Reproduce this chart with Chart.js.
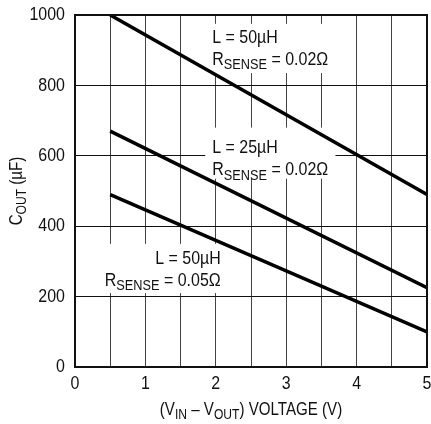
<!DOCTYPE html>
<html>
<head>
<meta charset="utf-8">
<script src="https://cdn.jsdelivr.net/npm/chart.js@4"></script>
<style>
  html, body { margin: 0; padding: 0; background: #fff; }
  #wrap { width: 431px; height: 424px; }
</style>
</head>
<body>
<div id="wrap"><canvas id="chart" width="431" height="424"></canvas></div>
<script>
const xVals = [0.5, 5];
const l50r002 = [1000, 490];
const l25r002 = [670, 225];
const l50r005 = [490, 100];

const xTicks = [0, 1, 2, 3, 4, 5];
const yTicks = [0, 200, 400, 600, 800, 1000];

const FONT = '"Liberation Sans", Arial, sans-serif';
const SQUEEZE = 0.84;

// notes: anchor of first text line in data units, plus white box [x0, x1, yTop, yBottom]
const notes = [
  { x: 1.95, y: 935, align: 'left', lines: ['L = 50µH', 'R|SENSE| = 0.02Ω'], box: [1.85, 3.70, 975, 835] },
  { x: 1.95, y: 622, align: 'left', lines: ['L = 25µH', 'R|SENSE| = 0.02Ω'], box: [1.85, 3.70, 680, 535] },
  { x: 2.07, y: 307, align: 'right', lines: ['L = 50µH', 'R|SENSE| = 0.05Ω'], box: [0.35, 2.15, 350, 210] }
];

function toPts(ys) {
  return ys.map((y, i) => ({ x: xVals[i], y }));
}

// draws condensed text; parts between | | are subscripts
function richText(ctx, str, x, y, size, align) {
  const parts = str.split('|');
  const subSize = size * 0.8;
  let w = 0;
  parts.forEach((p, i) => {
    ctx.font = (i % 2 ? subSize : size) + 'px ' + FONT;
    w += ctx.measureText(p).width;
  });
  w *= SQUEEZE;
  let cx = align === 'right' ? x - w : align === 'center' ? x - w / 2 : x;
  parts.forEach((p, i) => {
    const sub = i % 2 === 1;
    ctx.font = (sub ? subSize : size) + 'px ' + FONT;
    ctx.save();
    ctx.translate(cx, y + (sub ? size * 0.28 : 0));
    ctx.scale(SQUEEZE, 1);
    ctx.fillText(p, 0, 0);
    ctx.restore();
    cx += ctx.measureText(p).width * SQUEEZE;
  });
}

const extras = {
  id: 'extras',
  beforeDatasetsDraw(chart) {
    const { ctx, scales: { x, y } } = chart;
    ctx.save();
    ctx.fillStyle = '#fff';
    notes.forEach(n => {
      const l = x.getPixelForValue(n.box[0]), r = x.getPixelForValue(n.box[1]);
      const t = y.getPixelForValue(n.box[2]), b = y.getPixelForValue(n.box[3]);
      ctx.fillRect(l, t, r - l, b - t);
    });
    ctx.restore();
  },
  afterDraw(chart) {
    const { ctx, chartArea: a, scales: { x, y } } = chart;
    ctx.save();
    ctx.fillStyle = '#111';
    ctx.textBaseline = 'middle';
    notes.forEach(n => {
      const px = x.getPixelForValue(n.x);
      const py = y.getPixelForValue(n.y);
      n.lines.forEach((s, i) => richText(ctx, s, px, py + i * 22, 19, n.align));
    });
    // frame
    ctx.strokeStyle = '#111';
    ctx.lineWidth = 2;
    ctx.strokeRect(a.left, a.top, a.right - a.left, a.bottom - a.top);
    // tick labels
    xTicks.forEach(v => richText(ctx, String(v), x.getPixelForValue(v), a.bottom + 17, 19, 'center'));
    yTicks.forEach(v => richText(ctx, String(v), a.left - 10, y.getPixelForValue(v), 19, 'right'));
    // axis titles
    richText(ctx, '(V|IN| – V|OUT|) VOLTAGE (V)', (a.left + a.right) / 2, 410, 18, 'center');
    ctx.translate(17, (a.top + a.bottom) / 2);
    ctx.rotate(-Math.PI / 2);
    richText(ctx, 'C|OUT| (µF)', 0, 0, 18, 'center');
    ctx.restore();
  }
};

new Chart(document.getElementById('chart'), {
  type: 'line',
  data: {
    datasets: [
      { data: toPts(l50r002) },
      { data: toPts(l25r002) },
      { data: toPts(l50r005) }
    ].map(d => ({ ...d, borderColor: '#000', borderWidth: 3.5, pointRadius: 0, fill: false, tension: 0 }))
  },
  options: {
    responsive: false,
    animation: false,
    layout: { padding: { top: 15, right: 4, left: 0, bottom: 0 } },
    plugins: { legend: { display: false }, tooltip: { enabled: false } },
    scales: {
      x: {
        type: 'linear', min: 0, max: 5,
        afterBuildTicks: s => { s.ticks = [0, 0.5, 1, 1.5, 2, 2.5, 3, 3.5, 4, 4.5, 5].map(v => ({ value: v })); },
        afterFit: s => { s.height = 57; s.paddingLeft = 0; s.paddingRight = 0; },
        grid: { color: '#444', lineWidth: 1, drawTicks: false },
        border: { display: false },
        ticks: { display: false }
      },
      y: {
        type: 'linear', min: 0, max: 1000,
        afterBuildTicks: s => { s.ticks = yTicks.map(v => ({ value: v })); },
        afterFit: s => { s.width = 75; s.paddingTop = 0; s.paddingBottom = 0; },
        grid: { color: '#111', lineWidth: 1, drawTicks: false },
        border: { display: false },
        ticks: { display: false }
      }
    }
  },
  plugins: [extras]
});
</script>
</body>
</html>
